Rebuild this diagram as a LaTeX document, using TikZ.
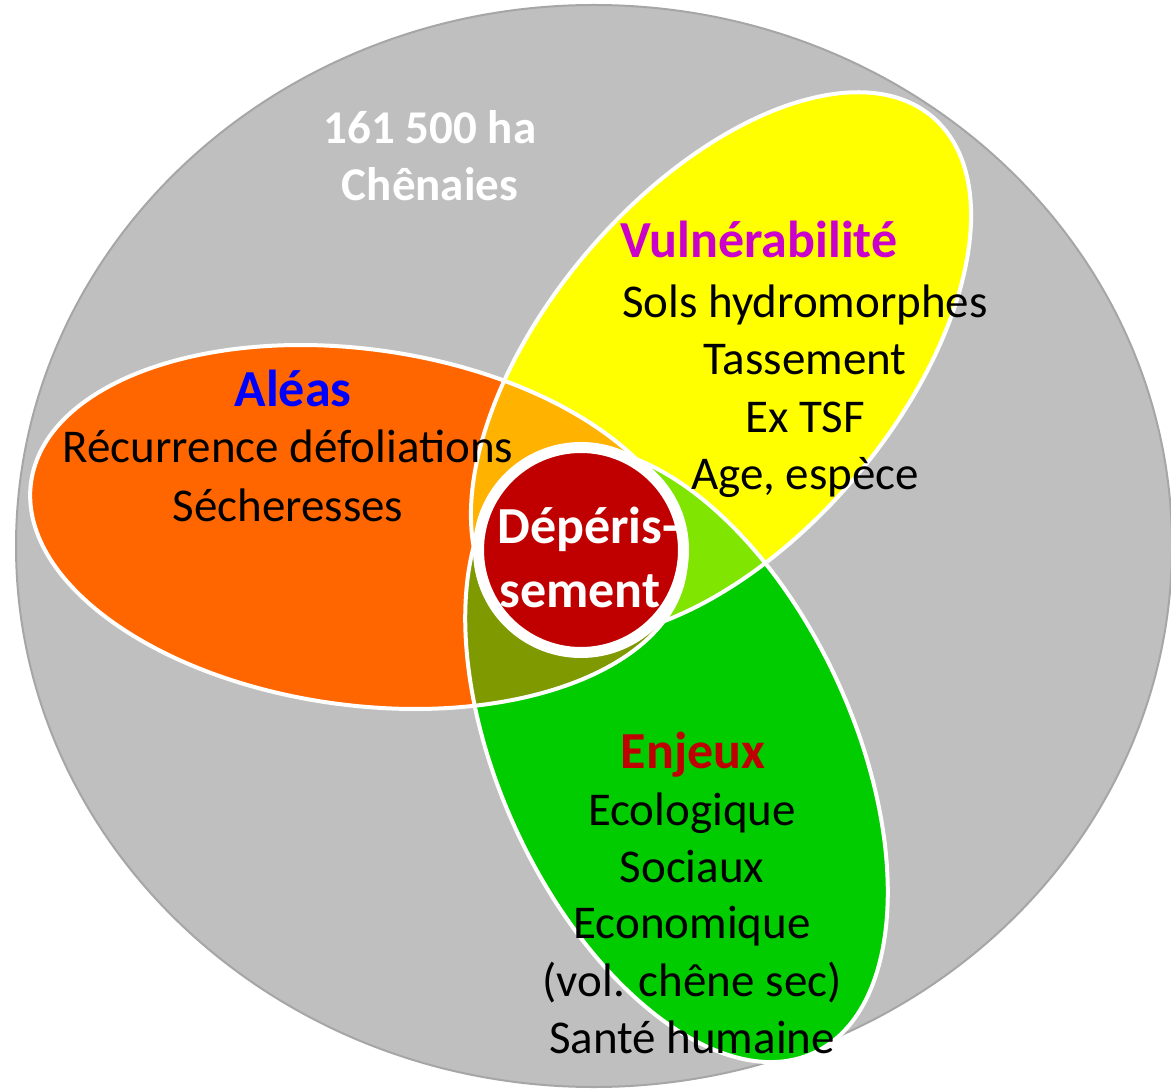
\documentclass[tikz,border=0pt]{standalone}
\usepackage{fontspec}
\setmainfont{Carlito}
\definecolor{bggray}{HTML}{BFBFBF}
\definecolor{bgline}{HTML}{A6A6A6}
\definecolor{cOrange}{HTML}{FF6600}
\definecolor{cYellow}{HTML}{FFFF00}
\definecolor{cGreen}{HTML}{00CC00}
\definecolor{cOY}{HTML}{FFB200}
\definecolor{cYG}{HTML}{80E500}
\definecolor{cOG}{HTML}{7F9900}
\definecolor{cRed}{HTML}{C00000}
\definecolor{cMag}{HTML}{CC00CC}
\definecolor{cBlue}{HTML}{0000FF}
\begin{document}
\begin{tikzpicture}[x=0.5pt,y=0.5pt,
  body/.style={font=\fontsize{23.5}{28.5}\selectfont, inner sep=0pt, anchor=base, text=black},
  ttl/.style={font=\fontsize{26}{30}\selectfont\bfseries, inner sep=0pt, anchor=base},
  hdr/.style={font=\fontsize{23.5}{28.5}\selectfont\bfseries, inner sep=0pt, anchor=base, text=white},
  outline/.style={draw=white, line width=2pt}]
\useasboundingbox (0,0) rectangle (1171,1088);
% background disc
\fill[bggray, draw=bgline, line width=1pt] (594,542) ellipse [x radius=578, y radius=541];
% ellipses definitions
\def\ellO{(358,561) ellipse [x radius=330, y radius=178]}
\def\ellY{(721,723) ellipse [x radius=326, y radius=175]}
\def\ellG{(676.5,333) ellipse [x radius=328, y radius=177]}
\fill[cOrange, rotate around={-7.8:(358,561)}] \ellO;
\fill[cYellow, rotate around={49.5:(721,723)}] \ellY;
\fill[cGreen, rotate around={-65.3:(676.5,333)}] \ellG;
% pairwise overlaps
\begin{scope}
  \clip[rotate around={-7.8:(358,561)}] \ellO;
  \fill[cOY, rotate around={49.5:(721,723)}] \ellY;
  \fill[cOG, rotate around={-65.3:(676.5,333)}] \ellG;
\end{scope}
\begin{scope}
  \clip[rotate around={49.5:(721,723)}] \ellY;
  \fill[cYG, rotate around={-65.3:(676.5,333)}] \ellG;
\end{scope}
% outlines
\draw[outline, rotate around={-7.8:(358,561)}] \ellO;
\draw[outline, rotate around={49.5:(721,723)}] \ellY;
\draw[outline, rotate around={-65.3:(676.5,333)}] \ellG;
% central disc
\node[circle, fill=cRed, draw=white, line width=5.5pt, minimum size=102.5pt, inner sep=0pt] (core) at (581,538) {};
% texts
\node[hdr] (h1) at (430,944) {161 500 ha};
\node[hdr] (h2) at (430,887) {Chênaies};
\node[ttl, text=cMag] (v0) at (759,830) {Vulnérabilité};
\node[body] (v1) at (805,770) {Sols hydromorphes};
\node[body] (v2) at (805,713) {Tassement};
\node[body] (v3) at (805,655) {Ex TSF};
\node[body] (v4) at (805,598) {Age, espèce};
\node[ttl, text=cBlue] (a0) at (293,681) {Aléas};
\node[body] (a1) at (288,625) {Récurrence défoliations};
\node[body] (a2) at (288,567) {Sécheresses};
\node[ttl, text=white] (d1) at (588,545) {Dépéris-};
\node[ttl, text=white] (d2) at (580,481) {sement};
\node[ttl, text=cRed] (e0) at (693,320) {Enjeux};
\node[body] (e1) at (692,263) {Ecologique};
\node[body] (e2) at (692,206) {Sociaux};
\node[body] (e3) at (692,150) {Economique};
\node[body] (e4) at (692,92) {(vol. chêne sec)};
\node[body] (e5) at (692,35) {Santé humaine};
\end{tikzpicture}
\end{document}
